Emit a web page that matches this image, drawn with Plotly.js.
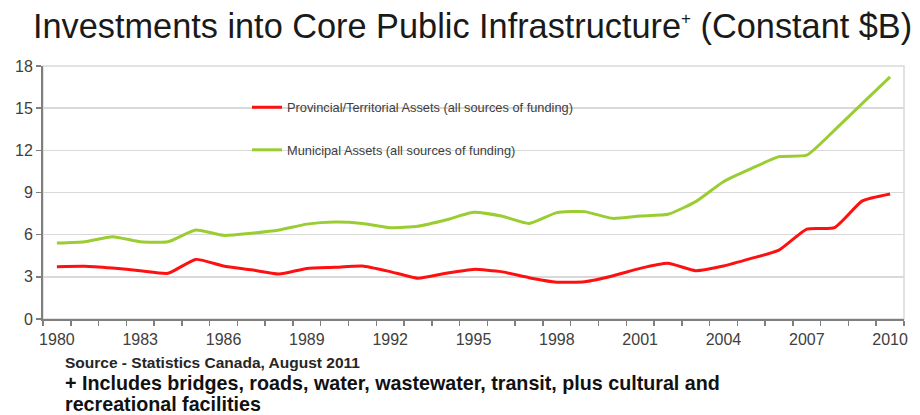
<!DOCTYPE html>
<html>
<head>
<meta charset="utf-8">
<script src="https://cdn.plot.ly/plotly-3.0.1.min.js"></script>
<style>html,body{margin:0;padding:0;background:#fff;}#chart{width:920px;height:415px;}</style>
</head>
<body>
<div id="chart"></div>
<script>
const years = [1980,1981,1982,1983,1984,1985,1986,1987,1988,1989,1990,1991,1992,1993,1994,1995,1996,1997,1998,1999,2000,2001,2002,2003,2004,2005,2006,2007,2008,2009,2010];
const provincial = [3.72,3.75,3.62,3.44,3.25,4.24,3.77,3.5,3.2,3.6,3.68,3.77,3.37,2.9,3.25,3.53,3.37,2.94,2.62,2.65,3.06,3.6,3.96,3.44,3.77,4.31,4.9,6.4,6.5,8.4,8.9];
const municipal = [5.4,5.5,5.86,5.5,5.5,6.33,5.95,6.1,6.33,6.75,6.9,6.8,6.5,6.6,7.04,7.59,7.33,6.8,7.57,7.64,7.16,7.33,7.45,8.35,9.77,10.7,11.55,11.66,13.44,15.34,17.23];
const seriesNames = ["Provincial/Territorial Assets (all sources of funding)", "Municipal Assets (all sources of funding)"];
const labelYears = [1980,1983,1986,1989,1992,1995,1998,2001,2004,2007,2010];
const yTicks = [0,3,6,9,12,15,18];
const titleMain = "Investments into Core Public Infrastructure";
const titleSup = "+";
const titleTail = " (Constant $B)";
const sourceText = "Source - Statistics Canada, August 2011";
const noteLines = ["+ Includes bridges, roads, water, wastewater, transit, plus cultural and", "recreational facilities"];

const boundaries = years.map(y => y - 0.5).concat([years[years.length-1] + 0.5]);

const traces = [
  {x: years, y: provincial, name: seriesNames[0], type: 'scatter', mode: 'lines',
   line: {color: '#ff1010', width: 3, shape: 'spline', smoothing: 0.5}, legend: 'legend'},
  {x: years, y: municipal, name: seriesNames[1], type: 'scatter', mode: 'lines',
   line: {color: '#9acd32', width: 3, shape: 'spline', smoothing: 0.5}, legend: 'legend2'}
];

const F = 'Liberation Sans, Arial, sans-serif';
const legendFont = {family: F, size: 12.8, color: '#404040'};
const layout = {
  width: 920, height: 415,
  margin: {l: 43, r: 16, t: 66, b: 96},
  paper_bgcolor: '#ffffff', plot_bgcolor: '#ffffff',
  title: {text: titleMain + '<sup><span style="font-size:17px">' + titleSup + '</span></sup>' + titleTail,
          x: 33/920, xanchor: 'left', y: 1 - 26/415, yanchor: 'middle',
          font: {family: F, size: 34.3, color: '#1a1a1a'}},
  xaxis: {
    range: [boundaries[0], boundaries[boundaries.length-1]],
    tickmode: 'array', tickvals: labelYears, ticktext: labelYears.map(String),
    ticks: 'outside', ticklen: 5, tickcolor: 'rgba(0,0,0,0)',
    minor: {tickmode: 'array', tickvals: boundaries, ticks: 'outside', ticklen: 5, tickcolor: '#7f7f7f', tickwidth: 1.5, showgrid: false},
    showgrid: false, zeroline: false,
    showline: true, linecolor: '#7f7f7f', linewidth: 2,
    tickfont: {family: F, size: 16, color: '#404040'},
    fixedrange: true
  },
  yaxis: {
    range: [0, 18], tickmode: 'array', tickvals: yTicks,
    ticks: 'outside', ticklen: 5, tickcolor: '#7f7f7f', tickwidth: 1.5,
    showgrid: true, gridcolor: '#d9d9d9', gridwidth: 1.5, zeroline: false,
    showline: true, linecolor: '#7f7f7f', linewidth: 2,
    tickfont: {family: F, size: 16, color: '#404040'},
    fixedrange: true
  },
  showlegend: true,
  legend: {x: (247-43)/861, xanchor: 'left', y: (319-107.5)/253, yanchor: 'middle',
           bgcolor: 'rgba(0,0,0,0)', font: legendFont, borderwidth: 0},
  legend2: {x: (247-43)/861, xanchor: 'left', y: (319-150)/253, yanchor: 'middle',
            bgcolor: 'rgba(0,0,0,0)', font: legendFont, borderwidth: 0},
  shapes: [
    {type: 'rect', xref: 'paper', yref: 'paper', x0: (92-43)/861, x1: (723-43)/861, y0: (319-172)/253, y1: (319-86)/253,
     fillcolor: '#ffffff', line: {width: 0}, layer: 'between'},
    {type: 'rect', xref: 'paper', yref: 'paper', x0: 0, x1: 1, y0: 0, y1: 1,
     fillcolor: 'rgba(0,0,0,0)', line: {color: '#d9d9d9', width: 1.5}, layer: 'below'}
  ],
  annotations: [
    {text: '<b>' + sourceText + '</b>', xref: 'paper', yref: 'paper', x: (63-43)/861, xanchor: 'left',
     y: (319-362)/253, yanchor: 'middle', showarrow: false,
     font: {family: F, size: 15.5, color: '#262626'}},
    {text: '<b>' + noteLines[0] + '</b>', xref: 'paper', yref: 'paper', x: (63-43)/861, xanchor: 'left',
     y: (319-383)/253, yanchor: 'middle', showarrow: false,
     font: {family: F, size: 19.7, color: '#111111'}},
    {text: '<b>' + noteLines[1] + '</b>', xref: 'paper', yref: 'paper', x: (63-43)/861, xanchor: 'left',
     y: (319-404)/253, yanchor: 'middle', showarrow: false,
     font: {family: F, size: 19.7, color: '#111111'}}
  ]
};

Plotly.newPlot('chart', traces, layout, {displayModeBar: false, staticPlot: true});
</script>
</body>
</html>
